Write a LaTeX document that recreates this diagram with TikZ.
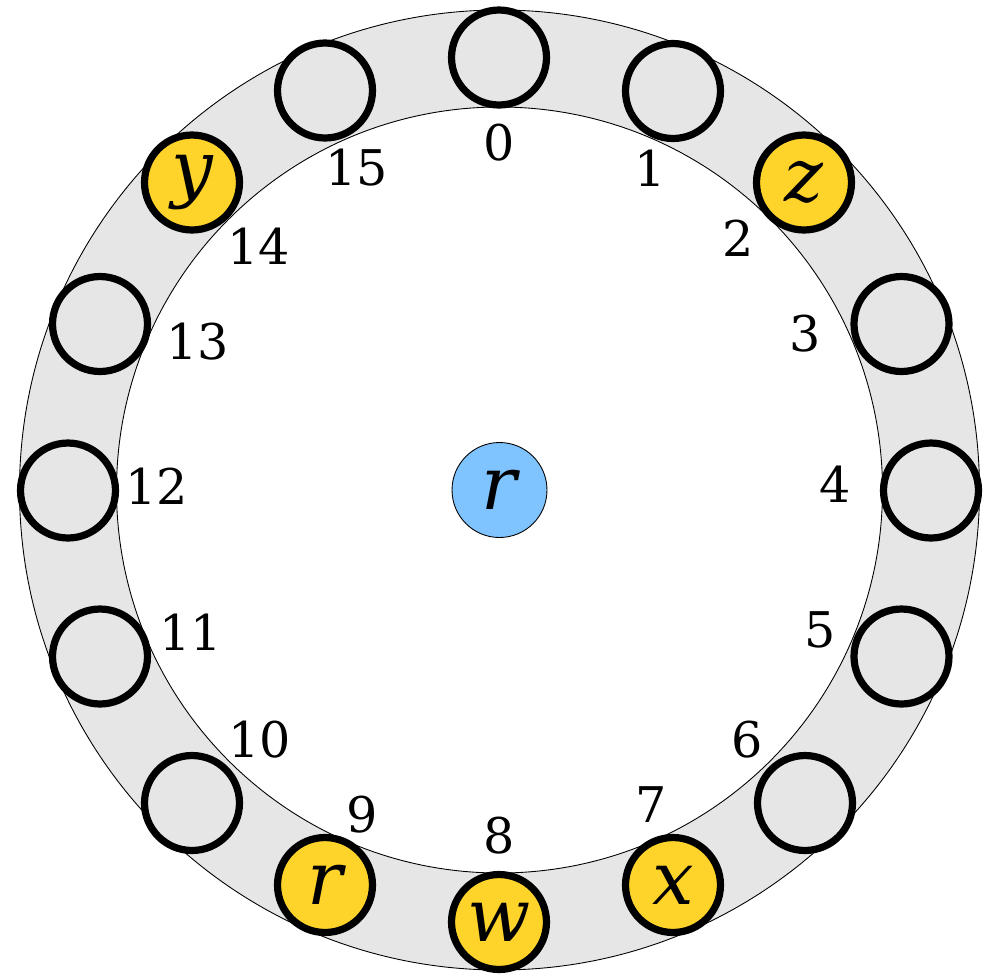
\documentclass[tikz,border=0pt]{standalone}
\usepackage{fontspec}
\setmainfont{DejaVu Serif}
\usepackage{xcolor}
\usetikzlibrary{positioning}
\definecolor{ringgrey}{HTML}{E6E6E6}
\definecolor{taken}{HTML}{FFD42A}
\definecolor{probe}{HTML}{80C4FF}
\tikzset{
  ring/.style={fill=ringgrey, even odd rule},
  ringline/.style={draw=black, line width=0.5pt},
  slot/.style={circle, draw=black, fill=ringgrey, line width=4.1pt,
               minimum size=1.9cm, inner sep=0pt,
               font=\fontsize{42}{48}\selectfont\itshape},
  filled/.style={slot, fill=taken},
  centre/.style={circle, draw=black, fill=probe, line width=0.5pt,
                 minimum size=1.9cm, inner sep=0pt,
                 font=\fontsize{42}{48}\selectfont\itshape},
  idx/.style={inner sep=0pt, font=\fontsize{28}{33}\selectfont}
}
\begin{document}
\begin{tikzpicture}[x=0.02cm,y=-0.02cm]
  \useasboundingbox (0,0) rectangle (988,975);

  % grey band
  \fill[ring] (499.5,490) circle (480) (499.5,490) circle (383);
  \draw[ringline] (499.5,490) circle (480);
  \draw[ringline] (499.5,490) circle (383);

  % sixteen slots
  \foreach \i/\x/\y in {0/499/57.5,1/673/91,3/901.5/324,4/931/490.5,
                        5/901.5/656.5,6/805/803,10/192/803,11/100/656.5,
                        12/68/490.5,13/100/324,15/325/90.5}
    {\node[slot] (slot\i) at (\x,\y) {};}
  \foreach \i/\x/\y/\lab in {2/804/182.5/z,7/673/885/x,8/499/922/w,
                             9/325/885/r,14/192/182.5/y}
    {\node[filled] (slot\i) at (\x,\y) {\lab};}

  % slot numbers
  \foreach \i/\x/\y in {0/499.5/142.5,1/650/168,2/738.5/238,3/805/334,
                        4/835/484,5/820/630,6/747/740,7/651/805,
                        8/499/835.5,9/362/815,10/260/740,11/191/632.5,
                        12/157/486.5,13/198/342,14/259/246.5,15/357/168}
    {\node[idx] (lab\i) at (\x,\y) {\i};}

  % key in the middle
  \node[centre] (key) at (499.5,490) {r};
\end{tikzpicture}
\end{document}
